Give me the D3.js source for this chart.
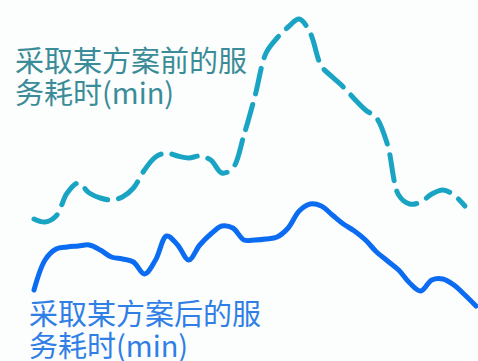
<!DOCTYPE html>
<html>
<head>
<meta charset="utf-8">
<script src="https://cdn.jsdelivr.net/npm/d3@7/dist/d3.min.js"></script>
<style>
  html, body { margin: 0; padding: 0; background: #fcfdfd; }
  svg { display: block; }
  text { font-family: "Noto Sans CJK SC", "Noto Sans", sans-serif; }
</style>
</head>
<body>
<svg id="chart" width="478" height="361"></svg>
<script>
// Sample index (evenly spaced observations)
const samples = d3.range(41);

// Service time before the measure (min); the series stops one sample early
const before = [
  12.1, 11.8, 12.4, 14.7, 15.7, 14.7, 14.2, 14.0, 14.3, 15.2,
  17.0, 18.3, 18.7, 18.4, 18.2, 18.4, 18.0, 16.7, 17.2, 20.5,
  24.4, 28.7, 30.2, 31.3, 32.1, 30.7, 27.4, 26.3, 25.3, 24.1,
  23.0, 22.2, 19.5, 14.5, 13.6, 13.8, 14.6, 15.0, 14.5, 13.4
];

// Service time after the measure (min)
const after = [
  5.0, 8.0, 9.1, 9.3, 9.4, 9.5, 9.0, 8.3, 8.1, 7.8,
  6.6, 8.0, 10.4, 9.5, 8.0, 9.5, 10.6, 11.4, 11.2, 10.0,
  10.0, 10.1, 10.3, 11.2, 12.9, 13.6, 13.4, 12.5, 11.6, 10.9,
  10.0, 8.8, 7.9, 7.0, 5.7, 4.9, 6.0, 6.1, 5.5, 4.5, 3.4
];

const seriesLabels = {
  before: ["采取某方案前的服", "务耗时(min)"],
  after: ["采取某方案后的服", "务耗时(min)"]
};

const svg = d3.select("#chart");

const x = d3.scaleLinear().domain([0, 40]).range([34, 476]);
const y = d3.scaleLinear().domain([0, 34]).range([340, 0]);

const line = d3.line()
  .x((d, i) => x(samples[i]))
  .y(d => y(d))
  .curve(d3.curveCatmullRom.alpha(0.5));

// Before: dashed teal
svg.append("path")
  .datum(before)
  .attr("d", line)
  .attr("fill", "none")
  .attr("stroke", "#1aa4c4")
  .attr("stroke-width", 5)
  .attr("stroke-linecap", "round")
  .attr("stroke-linejoin", "round")
  .attr("stroke-dasharray", "26 11");

// After: solid blue
svg.append("path")
  .datum(after)
  .attr("d", line)
  .attr("fill", "none")
  .attr("stroke", "#0b6cf2")
  .attr("stroke-width", 5)
  .attr("stroke-linecap", "round")
  .attr("stroke-linejoin", "round");

// Series labels, two lines each
function label(lines, x0, y0, color) {
  lines.forEach((s, i) => {
    svg.append("text")
      .attr("x", x0)
      .attr("y", y0 + i * 32)
      .attr("fill", color)
      .attr("font-size", 29)
      .text(s);
  });
}

label(seriesLabels.before, 15, 72, "#3a8c98");
label(seriesLabels.after, 29, 325, "#2f7fe6");
</script>
</body>
</html>
